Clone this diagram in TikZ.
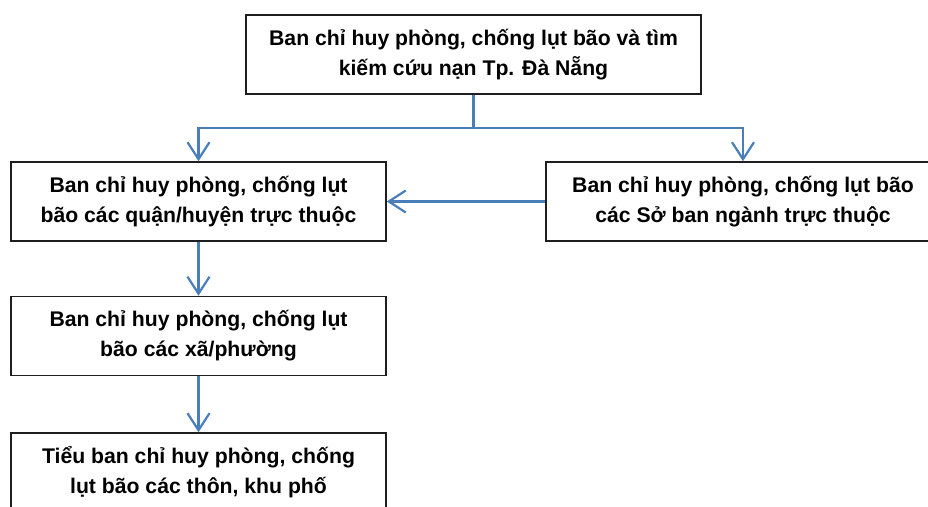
\documentclass[tikz,border=0pt]{standalone}
\usepackage{fontspec}
\setmainfont{Liberation Sans}
\usetikzlibrary{arrows.meta}
\definecolor{linkblue}{RGB}{74,126,187}
\definecolor{boxline}{RGB}{30,30,30}
\begin{document}
\begin{tikzpicture}[x=1pt,y=-1pt,
  orgbox/.style={draw=boxline,line width=1.5pt,fill=white,rectangle,
    minimum width=375pt,minimum height=79pt,inner sep=0pt,align=center,
    font=\fontsize{21.2}{30}\selectfont\bfseries},
  linkline/.style={draw=linkblue,line width=2.2pt},
  link/.style={linkline,
    -{Straight Barb[length=17pt,width=22pt,line width=2.2pt]}}]
\useasboundingbox (0,0) rectangle (928,506);
\clip (0,0) rectangle (928,506);
% command levels
\node[orgbox,minimum width=455pt] (city) at (473.5,54.5)
  {Ban chỉ huy phòng, chống lụt bão và tìm\\kiếm cứu nạn Tp. Đà Nẵng};
\node[orgbox] (district) at (198.5,201.5)
  {Ban chỉ huy phòng, chống lụt\\bão các quận/huyện trực thuộc};
\node[orgbox,minimum width=394pt] (dept) at (743,201.5)
  {Ban chỉ huy phòng, chống lụt bão\\các Sở ban ngành trực thuộc};
\node[orgbox] (ward) at (198.5,336)
  {Ban chỉ huy phòng, chống lụt\\bão các xã/phường};
\node[orgbox] (village) at (198.5,472.5)
  {Tiểu ban chỉ huy phòng, chống\\lụt bão các thôn, khu phố};
% connectors
\coordinate (split) at (city.south |- 0,128);
\draw[linkline] (city.south) -- (split);
\draw[link] (split) -| (district.north);
\draw[link] (split) -| (dept.north);
\draw[link] (dept.west) -- (district.east);
\draw[link] (district.south) -- (ward.north);
\draw[link] (ward.south) -- (village.north);
\end{tikzpicture}
\end{document}
